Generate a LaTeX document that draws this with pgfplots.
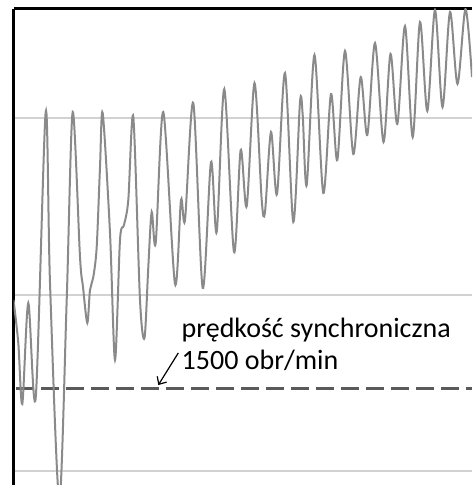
\documentclass[border=0pt]{standalone}
\usepackage{fontspec}
\setmainfont{Carlito}
\usepackage{pgfplots}
\pgfplotsset{compat=1.18}
\usetikzlibrary{arrows.meta}
\definecolor{curvegray}{RGB}{138,138,138}
\definecolor{gridgray}{RGB}{210,210,210}
\definecolor{dashgray}{RGB}{90,90,90}
\begin{document}
\begin{tikzpicture}
\begin{axis}[
  scale only axis, width=458.5pt, height=476pt,
  xmin=13.5, xmax=472, ymin=920.7, ymax=3617.7,
  axis x line*=top, axis y line*=left,
  axis line style={-, black, line width=3pt},
  xtick=\empty, ytick={1000,2000,3000}, yticklabels={},
  ymajorgrids, major grid style={line width=2pt, gridgray},
  major tick length=0pt,
  clip=true,
]
\addplot[dashgray, line width=3pt, dash pattern=on 18pt off 7pt] coordinates {(16,1470) (472,1470)};
\addplot[curvegray, line width=2pt, smooth, mark=none] coordinates {
(13.5,1969) (18.3,1725) (22.3,1380) (28.3,1952) (35.7,1414) (45.7,3034)
(50,2065) (59.3,836) (66.7,1969) (72.7,3034) (80,2213) (83,2043)
(87.3,1839) (90,2026) (93.3,2099) (96.7,2269) (100,2722) (102.7,3028)
(110,2349) (115,1629) (120,2309) (124,2394) (128.3,2536) (133.3,3006)
(140,1969) (144.5,1754) (148.3,2156) (151.7,2468) (155.7,2292) (163.3,3034)
(175,2060) (181,2536) (185,2422) (193.3,3085) (202.7,2037) (211,2751)
(216.7,2354) (224.3,3164) (234,2241) (240.7,2819) (246.7,2501) (254.5,3198)
(261.7,2536) (265,2468) (271,2921) (277,2569) (285,3255) (293.3,2411)
(300,3091) (302.7,3017) (306.7,2620) (314.5,3357) (323.3,2575) (331,3136)
(337.3,2762) (345,3380) (353.3,2796) (360.7,3232) (367.3,2904) (375,3425)
(383.5,2864) (390.5,3363) (397.3,2966) (405,3521) (412.7,2892) (420,3544)
(427.3,3040) (435,3612) (442.5,3062) (450,3601) (457.5,3193) (465.5,3618)
(472,3232)
};
\node[anchor=base west, inner sep=0pt, font=\fontsize{28}{33}\selectfont] at (axis cs:181.5,1759) {prędkość synchroniczna};
\node[anchor=base west, inner sep=0pt, font=\fontsize{28}{33}\selectfont] at (axis cs:181.5,1575) {1500 obr/min};
\draw[black, line width=1.2pt, -{Straight Barb[length=6pt,width=11pt]}] (axis cs:178.3,1669) -- (axis cs:158.3,1487);
\coordinate (sw) at (rel axis cs:0,0);
\coordinate (ne) at (rel axis cs:1,1);
\end{axis}
\pgfresetboundingbox
\path ([xshift=-13.5pt]sw) rectangle ([yshift=9pt]ne);
\end{tikzpicture}
\end{document}
